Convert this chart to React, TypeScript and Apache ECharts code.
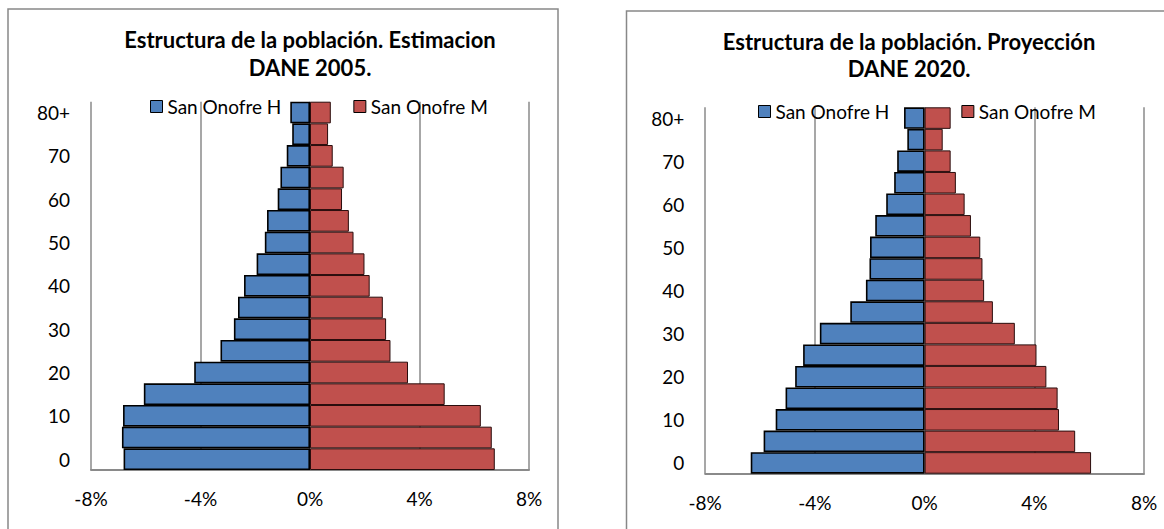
import React, { useEffect, useRef } from "react";
import * as echarts from "echarts";

const ageGroups = ["0", "5", "10", "15", "20", "25", "30", "35", "40", "45", "50", "55", "60", "65", "70", "75", "80+"];
const xTicks = [-8, -4, 0, 4, 8];

const men2005 = [6.81, 6.87, 6.83, 6.07, 4.23, 3.27, 2.78, 2.63, 2.41, 1.95, 1.65, 1.57, 1.18, 1.08, 0.85, 0.65, 0.72];
const women2005 = [6.75, 6.64, 6.24, 4.92, 3.58, 2.94, 2.78, 2.66, 2.18, 1.99, 1.59, 1.42, 1.17, 1.23, 0.83, 0.66, 0.76];
const men2020 = [6.34, 5.87, 5.43, 5.07, 4.72, 4.43, 3.82, 2.71, 2.14, 2.01, 1.99, 1.80, 1.40, 1.11, 1.00, 0.63, 0.75];
const women2020 = [6.07, 5.49, 4.90, 4.85, 4.44, 4.08, 3.29, 2.49, 2.17, 2.11, 2.03, 1.69, 1.46, 1.14, 0.95, 0.66, 0.95];

const seriesNames = ["San Onofre H", "San Onofre M"];
const titles2005 = ["Estructura de la población. Estimacion", "DANE 2005."];
const titles2020 = ["Estructura de la población. Proyección", "DANE 2020."];

const FONT = "Lato, 'Open Sans', sans-serif";
const BLUE = "#4F81BD";
const RED = "#C0504D";
const GRID_GRAY = "#8A8A8A";

export default function App() {
  const ref = useRef<HTMLDivElement>(null);
  useEffect(() => {
    if (!ref.current) return;
    const chart = echarts.init(ref.current, undefined, { renderer: "svg" });
    const xAxisCommon = (gridIndex: number) => ({
      type: "value",
      gridIndex,
      min: xTicks[0],
      max: xTicks[xTicks.length - 1],
      interval: 4,
      axisLine: { show: true, lineStyle: { color: GRID_GRAY, width: 2 } },
      axisTick: { show: false },
      splitLine: { show: true, lineStyle: { color: GRID_GRAY, width: 1.5 } },
      axisLabel: { formatter: "{value}%", color: "#000", fontFamily: FONT, fontSize: 19, margin: 19 },
    });
    const yAxisCommon = (gridIndex: number) => ({
      type: "category",
      gridIndex,
      data: ageGroups,
      axisLine: { show: false },
      axisTick: { show: false },
      axisLabel: { interval: 1, color: "#000", fontFamily: FONT, fontSize: 19, margin: 21 },
    });
    const legendCommon = (left: number, top: number) => ({
      left,
      top,
      padding: 0,
      itemWidth: 12,
      itemHeight: 12,
      itemGap: 72,
      icon: "rect",
      data: seriesNames,
      textStyle: { color: "#000", fontFamily: FONT, fontSize: 19, padding: [0, 0, 0, 0] },
      itemStyle: { borderColor: "#000", borderWidth: 1 },
    });
    const titleText = (x: number, y: number, t: string) => ({
      type: "text",
      x,
      y,
      style: {
        text: t,
        fill: "#000",
        font: `bold 22px ${FONT}`,
        textAlign: "center",
        textVerticalAlign: "middle",
      },
    });
    const bar = (name: string, data: number[], axis: number, stack: string, isMen: boolean) => ({
      name,
      type: "bar",
      xAxisIndex: axis,
      yAxisIndex: axis,
      stack,
      barCategoryGap: "0%",
      data: data.map((v) => (isMen ? -v : v)),
      itemStyle: isMen
        ? { color: BLUE, borderColor: "#000", borderWidth: 1.6 }
        : { color: RED, borderColor: "#2a0d0d", borderWidth: 1 },
    });
    chart.setOption({
      animation: false,
      backgroundColor: "#fff",
      grid: [
        { left: 91, top: 101.7, width: 438, height: 368.3 },
        { left: 705.2, top: 107.3, width: 438.8, height: 366.4 },
      ],
      xAxis: [xAxisCommon(0), xAxisCommon(1)],
      yAxis: [yAxisCommon(0), yAxisCommon(1)],
      legend: [legendCommon(150, 97), legendCommon(758, 102)],
      graphic: [
        { type: "rect", shape: { x: 8, y: 9, width: 550, height: 600 }, style: { fill: "none", stroke: "#888", lineWidth: 1.5 }, silent: true },
        { type: "rect", shape: { x: 626.5, y: 11, width: 600, height: 600 }, style: { fill: "none", stroke: "#888", lineWidth: 1.5 }, silent: true },
        titleText(310, 39, titles2005[0]),
        titleText(310, 67, titles2005[1]),
        titleText(909, 41, titles2020[0]),
        titleText(909, 68.3, titles2020[1]),
      ],
      series: [
        bar(seriesNames[0], men2005, 0, "a", true),
        bar(seriesNames[1], women2005, 0, "a", false),
        bar(seriesNames[0], men2020, 1, "b", true),
        bar(seriesNames[1], women2020, 1, "b", false),
      ],
    });
    return () => chart.dispose();
  }, []);
  return <div ref={ref} style={{ position: "fixed", left: 0, top: 0, width: 1164, height: 529 }} />;
}
